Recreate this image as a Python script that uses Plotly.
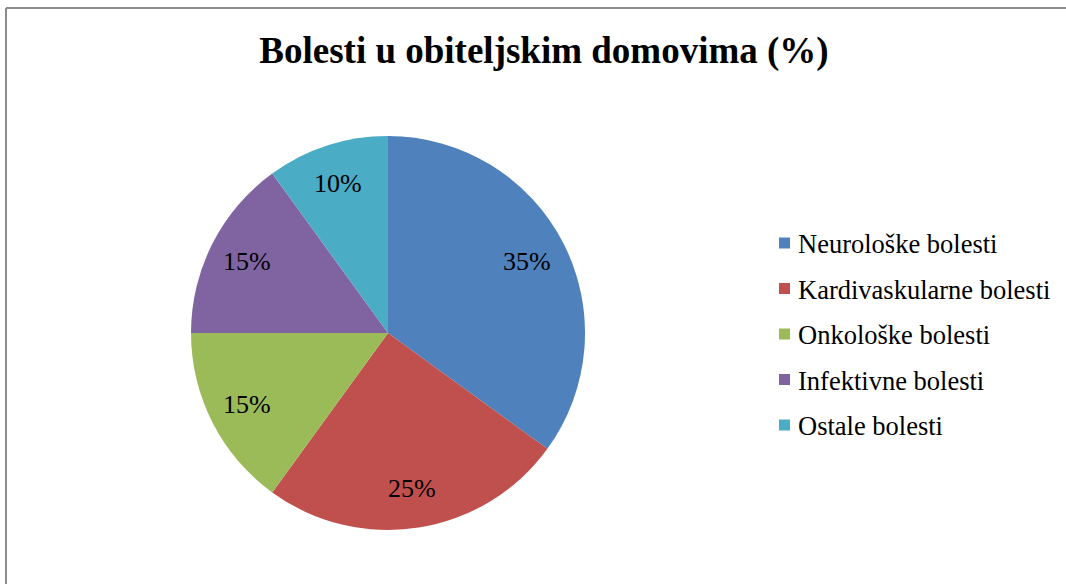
import math
import plotly.graph_objects as go

W, H = 1066, 584

title_text = "Bolesti u obiteljskim domovima (%)"
categories = ["Neurološke bolesti", "Kardivaskularne bolesti", "Onkološke bolesti",
              "Infektivne bolesti", "Ostale bolesti"]
values = [35, 25, 15, 15, 10]
colors = ["#4F81BD", "#C0504D", "#9BBB59", "#8064A2", "#4BACC6"]

FONT = "Liberation Serif, Times New Roman, serif"

# pie geometry in pixels
cx, cy, R = 388, 333, 197
label_r = 0.80 * R


def px_x(x):
    return x / W


def px_y(y):
    return 1 - y / H


fig = go.Figure()
fig.add_trace(go.Pie(
    labels=categories,
    values=values,
    marker=dict(colors=colors, line=dict(width=0)),
    sort=False,
    direction="clockwise",
    rotation=0,
    textinfo="none",
    showlegend=False,
    domain=dict(x=[px_x(cx - R), px_x(cx + R)], y=[px_y(cy + R), px_y(cy - R)]),
    hoverinfo="label+percent",
))

shapes = [
    dict(type="line", xref="paper", yref="paper", x0=px_x(6), x1=1.0, y0=px_y(8), y1=px_y(8),
         line=dict(color="#8c8c8c", width=2)),
    dict(type="line", xref="paper", yref="paper", x0=px_x(6), x1=px_x(6), y0=px_y(8), y1=0,
         line=dict(color="#8c8c8c", width=2)),
]
annotations = []

# percentage labels placed at mid-angle of each slice
total = sum(values)
cum = 0
for v in values:
    mid = (cum + v / 2) / total * 2 * math.pi
    cum += v
    lx = cx + label_r * math.sin(mid)
    ly = cy - label_r * math.cos(mid)
    annotations.append(dict(text=f"{round(100 * v / total)}%", xref="paper", yref="paper",
                            x=px_x(lx - 1), y=px_y(ly), xanchor="center", yanchor="middle",
                            showarrow=False, font=dict(family=FONT, size=26, color="black")))

# manual legend
leg_x_box = 779
leg_x_text = 796
leg_y0 = 243
leg_dy = 45.5
box = 11
for i, (lab, col) in enumerate(zip(categories, colors)):
    yc = leg_y0 + i * leg_dy
    shapes.append(dict(type="rect", xref="paper", yref="paper",
                       x0=px_x(leg_x_box), x1=px_x(leg_x_box + box),
                       y0=px_y(yc + box / 2), y1=px_y(yc - box / 2),
                       fillcolor=col, line=dict(width=0)))
    annotations.append(dict(text=lab, xref="paper", yref="paper", x=px_x(leg_x_text), y=px_y(yc + 1),
                            xanchor="left", yanchor="middle", showarrow=False,
                            font=dict(family=FONT, size=26.5, color="black")))

fig.update_layout(
    width=W, height=H,
    margin=dict(l=0, r=0, t=0, b=0),
    paper_bgcolor="white",
    plot_bgcolor="white",
    title=dict(text="<b>" + title_text + "</b>", x=px_x(544), y=px_y(50),
               xanchor="center", yanchor="middle",
               font=dict(family=FONT, size=37, color="black")),
    shapes=shapes,
    annotations=annotations,
)

fig.write_html("out.html", config={"displayModeBar": False},
               post_script="document.body.style.margin='0';")
